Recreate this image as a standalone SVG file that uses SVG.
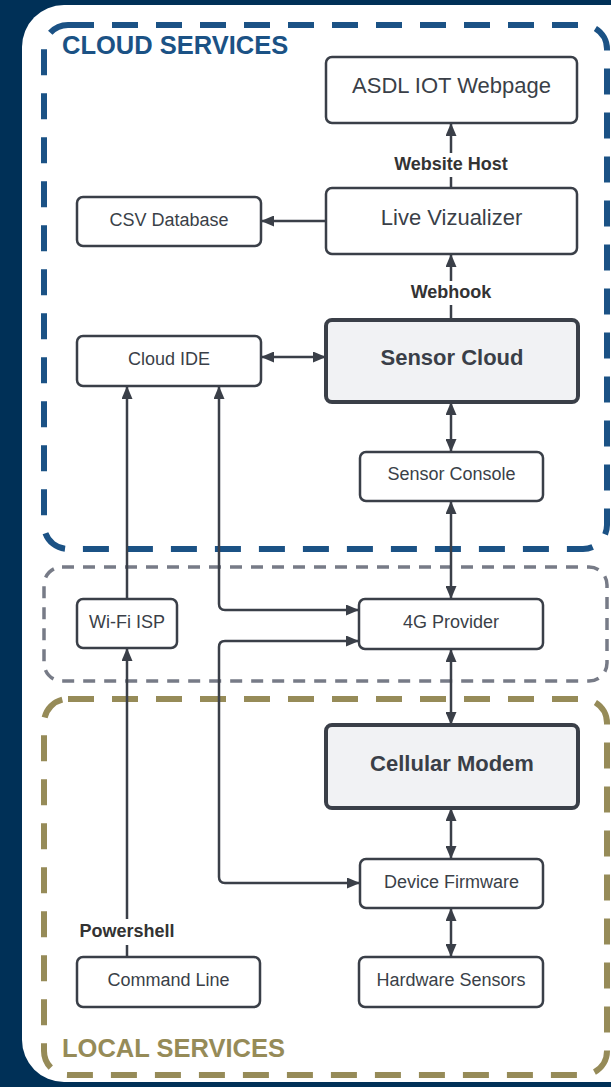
<svg xmlns="http://www.w3.org/2000/svg" width="611" height="1087" viewBox="0 0 611 1087">
<style>
.node rect{fill:#fff;stroke:#3a3f48;stroke-width:2.5}
.node.hl rect{fill:#f1f2f4;stroke-width:4}
.node text{font-family:"Liberation Sans",Arial,sans-serif;fill:#3a3f48;text-anchor:middle}
.sm{font-size:18px}
.lg{font-size:22px}
.b{font-weight:bold}
.conn path{fill:none;stroke:#3a3f48;stroke-width:2.5}
.lbl{font-family:"Liberation Sans",Arial,sans-serif;font-size:18px;font-weight:bold;fill:#333;text-anchor:middle}
.title{font-family:"Liberation Sans",Arial,sans-serif;font-size:25.5px;font-weight:bold}
</style>
<defs>
<marker id="ah" viewBox="0 0 13 11" refX="13" refY="5.5" markerWidth="13" markerHeight="11" markerUnits="userSpaceOnUse" orient="auto-start-reverse">
<path d="M0,0 L13,5.5 L0,11 z" fill="#3a3f48"/>
</marker>
</defs>
<rect x="0" y="0" width="611" height="1087" fill="#003057"/>
<rect x="22" y="5" width="650" height="1077" rx="42" fill="#fff"/>
<g id="regions">
<rect x="44" y="25" width="563" height="524" rx="24" fill="none" stroke="#1b5285" stroke-width="6" stroke-dasharray="26 18"/>
<rect x="44" y="567" width="563" height="114" rx="18" fill="none" stroke="#777b87" stroke-width="3.5" stroke-dasharray="12 9"/>
<rect x="44" y="699" width="563" height="376" rx="24" fill="none" stroke="#968b58" stroke-width="6" stroke-dasharray="26 18"/>
<text class="title" x="62" y="54" fill="#1b5285">CLOUD SERVICES</text>
<text class="title" x="62" y="1057" fill="#968b58">LOCAL SERVICES</text>
</g>
<g id="connectors" class="conn">
<path d="M451,188 V123" marker-end="url(#ah)"/>
<path d="M326,221 H261" marker-end="url(#ah)"/>
<path d="M451,320 V254" marker-end="url(#ah)"/>
<path d="M261,357 H326" marker-start="url(#ah)" marker-end="url(#ah)"/>
<path d="M451,402 V452" marker-start="url(#ah)" marker-end="url(#ah)"/>
<path d="M451,501 V599" marker-start="url(#ah)" marker-end="url(#ah)"/>
<path d="M127,599 V386" marker-end="url(#ah)"/>
<path d="M219,386 V604 Q219,610 225,610 H359" marker-start="url(#ah)" marker-end="url(#ah)"/>
<path d="M359,641 H225 Q219,641 219,647 V877 Q219,883 225,883 H360" marker-start="url(#ah)" marker-end="url(#ah)"/>
<path d="M451,649 V725" marker-start="url(#ah)" marker-end="url(#ah)"/>
<path d="M451,808 V859" marker-start="url(#ah)" marker-end="url(#ah)"/>
<path d="M451,908 V957" marker-start="url(#ah)" marker-end="url(#ah)"/>
<path d="M127,957 V648" marker-end="url(#ah)"/>
<rect x="390" y="153" width="122" height="24" fill="#fff"/>
<text class="lbl" x="451" y="170">Website Host</text>
<rect x="405" y="281" width="92" height="24" fill="#fff"/>
<text class="lbl" x="451" y="298">Webhook</text>
<rect x="75" y="919" width="104" height="26" fill="#fff"/>
<text class="lbl" x="127" y="937">Powershell</text>
</g>
<g id="n-webpage" class="node"><rect x="326" y="57" width="251" height="66" rx="6"/><text class="lg" x="451.5" y="93">ASDL IOT Webpage</text></g>
<g id="n-viz" class="node"><rect x="326" y="188" width="251" height="66" rx="6"/><text class="lg" x="451.5" y="225">Live Vizualizer</text></g>
<g id="n-csv" class="node"><rect x="77" y="197" width="184" height="49" rx="6"/><text class="sm" x="169" y="226">CSV Database</text></g>
<g id="n-ide" class="node"><rect x="77" y="336" width="184" height="50" rx="6"/><text class="sm" x="169" y="365">Cloud IDE</text></g>
<g id="n-cloud" class="node hl"><rect x="326" y="320" width="252" height="82" rx="6"/><text class="lg b" x="452" y="365">Sensor Cloud</text></g>
<g id="n-console" class="node"><rect x="360" y="452" width="183" height="49" rx="6"/><text class="sm" x="451.5" y="480">Sensor Console</text></g>
<g id="n-wifi" class="node"><rect x="77" y="599" width="100" height="49" rx="6"/><text class="sm" x="127" y="628">Wi-Fi ISP</text></g>
<g id="n-4g" class="node"><rect x="359" y="599" width="184" height="50" rx="6"/><text class="sm" x="451" y="628">4G Provider</text></g>
<g id="n-modem" class="node hl"><rect x="326" y="725" width="252" height="83" rx="6"/><text class="lg b" x="452" y="771">Cellular Modem</text></g>
<g id="n-firmware" class="node"><rect x="360" y="859" width="183" height="49" rx="6"/><text class="sm" x="451.5" y="888">Device Firmware</text></g>
<g id="n-cmd" class="node"><rect x="77" y="957" width="183" height="50" rx="6"/><text class="sm" x="168.5" y="986">Command Line</text></g>
<g id="n-hw" class="node"><rect x="359" y="957" width="184" height="50" rx="6"/><text class="sm" x="451" y="986">Hardware Sensors</text></g>
</svg>
